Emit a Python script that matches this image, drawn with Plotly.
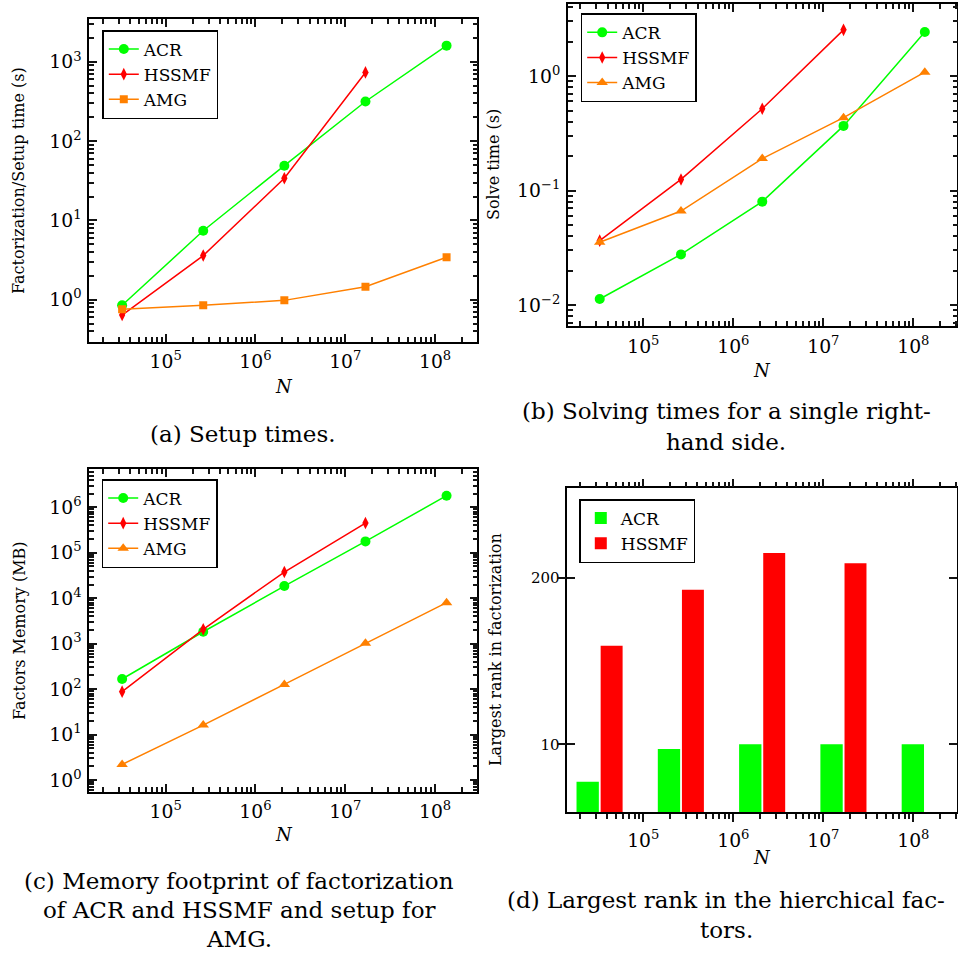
import numpy as np
import plotly.graph_objects as go

# ---------------- data ----------------
N = [32768, 262144, 2097152, 16777216, 134217728]

setup_acr = [0.85, 7.4, 49, 316, 1600]
setup_hssmf = [0.64, 3.6, 34, 735]
setup_amg = [0.76, 0.85, 0.98, 1.46, 3.43]

solve_acr = [0.0113, 0.0277, 0.080, 0.367, 2.42]
solve_hssmf = [0.0365, 0.125, 0.518, 2.53]
solve_amg = [0.0353, 0.0662, 0.190, 0.433, 1.08]

mem_acr = [167, 1830, 18500, 178000, 1.8e6]
mem_hssmf = [88, 2070, 37700, 451000]
mem_amg = [2.2, 16.2, 127, 1018, 7980]

rank_acr = [5.1, 9.2, 10, 10, 10]
rank_hssmf = [59, 161, 313, 260]

label_alias = {"1": "10<sup>0</sup>", "10": "10<sup>1</sup>",
               "0.1": "10<sup>−1</sup>", "0.01": "10<sup>−2</sup>"}
yd_tickvals = [10, 200]
yd_ticktext = ["10", "200"]

captions = {
    "a": ["(a) Setup times."],
    "b": ["(b) Solving times for a single right-", "hand side."],
    "c": ["(c) Memory footprint of factorization", "of ACR and HSSMF and setup for", "AMG."],
    "d": ["(d) Largest rank in the hierchical fac-", "tors."],
}

# ---------------- style ----------------
W = H = 958
FONT = "DejaVu Serif"
GREEN = "rgb(0,255,0)"
RED = "rgb(255,0,0)"
ORANGE = "rgb(255,128,0)"
TICKCOL = "rgb(20,20,20)"


def dom(x0, x1, y0, y1):
    return [x0 / W, x1 / W], [1 - y1 / H, 1 - y0 / H]


def log_axis(tick_dir="inside", mirror="allticks", ln=8, mln=5, w=2, col=TICKCOL):
    return dict(
        type="log", showline=True, linecolor="black", linewidth=1.5, mirror=mirror,
        ticks=tick_dir, ticklen=ln, tickwidth=w, tickcolor=col, layer="above traces",
        showgrid=False, zeroline=False,
        tickfont=dict(family=FONT, size=15, color="black"),
        ticklabelstandoff=3,
        tickmode="linear", tick0=0, dtick=1, exponentformat="power",
        labelalias=label_alias,
        minor=dict(ticks=tick_dir, ticklen=mln, tickwidth=w, tickcolor=col,
                   dtick="D1", showgrid=False),
    )


fig = go.Figure()


def line_trace(x, y, name, color, symbol, size, ax, leg):
    fig.add_trace(go.Scatter(x=x, y=y, name=name, mode="lines+markers",
                             line=dict(color=color, width=1.5),
                             marker=dict(symbol=symbol, size=size, color=color),
                             xaxis="x" + ax, yaxis="y" + ax, legend=leg))


# panel (a)
line_trace(N, setup_acr, "ACR", GREEN, "circle", 10, "", "legend")
line_trace(N[:4], setup_hssmf, "HSSMF", RED, "diamond-tall", 9, "", "legend")
line_trace(N, setup_amg, "AMG", ORANGE, "square", 8, "", "legend")
# panel (b)
line_trace(N, solve_acr, "ACR", GREEN, "circle", 10, "2", "legend2")
line_trace(N[:4], solve_hssmf, "HSSMF", RED, "diamond-tall", 9, "2", "legend2")
line_trace(N, solve_amg, "AMG", ORANGE, "triangle-up", 10, "2", "legend2")
# panel (c)
line_trace(N, mem_acr, "ACR", GREEN, "circle", 10, "3", "legend3")
line_trace(N[:4], mem_hssmf, "HSSMF", RED, "diamond-tall", 9, "3", "legend3")
line_trace(N, mem_amg, "AMG", ORANGE, "triangle-up", 10, "3", "legend3")

# panel (d): bars placed at log10(N) on a linear helper axis
logN = list(np.log10(N))
fig.add_trace(go.Bar(x=logN, y=rank_acr, name="ACR", width=0.248, offset=-0.257,
                     marker=dict(color=GREEN, line=dict(width=0)),
                     xaxis="x4", yaxis="y4", legend="legend4"))
fig.add_trace(go.Bar(x=logN[:4], y=rank_hssmf, name="HSSMF", width=0.244, offset=0.011,
                     marker=dict(color=RED, line=dict(width=0)),
                     xaxis="x4", yaxis="y4", legend="legend4"))
# invisible companion trace so the log-scaled N axis of panel (d) is drawn
fig.add_trace(go.Scatter(x=N, y=rank_acr, mode="markers", marker=dict(opacity=0),
                         showlegend=False, hoverinfo="skip", xaxis="x5", yaxis="y4"))

# ---------------- layout ----------------
xa, ya = dom(89.3, 477.3, 19, 341.7)
xb, yb = dom(568, 957.3, 4, 326)
xc, yc = dom(89.3, 477.3, 469, 791.7)
xd, yd = dom(567.3, 956.7, 488.3, 812.3)
xr_d = [4.156, 8.482]

layout = dict(
    width=W, height=H, margin=dict(l=0, r=0, t=0, b=0),
    paper_bgcolor="white", plot_bgcolor="rgba(0,0,0,0)",
    font=dict(family=FONT, color="black"),
    barmode="overlay", showlegend=True,
    xaxis=dict(log_axis(), domain=xa, anchor="y", range=[4.15, 8.47]),
    yaxis=dict(log_axis(), domain=ya, anchor="x", range=[-0.53, 3.54]),
    xaxis2=dict(log_axis(), domain=xb, anchor="y2", range=[4.163, 8.489]),
    yaxis2=dict(log_axis(), domain=yb, anchor="x2", range=[-2.183, 0.629]),
    xaxis3=dict(log_axis(), domain=xc, anchor="y3", range=[4.15, 8.47]),
    yaxis3=dict(log_axis(), domain=yc, anchor="x3", range=[-0.257, 6.843]),
    xaxis4=dict(type="linear", domain=xd, anchor="y4", range=xr_d,
                showline=True, linecolor="black", linewidth=1.5, mirror=True,
                ticks="", showticklabels=False, showgrid=False, zeroline=False),
    xaxis5=dict(log_axis("outside"), overlaying="x4", anchor="y4", side="bottom",
                range=xr_d),
    yaxis4=dict(type="log", domain=yd, anchor="x4", range=[0.469, 3.0],
                showline=True, linecolor="black", linewidth=1.5, mirror="allticks",
                ticks="inside", ticklen=8, tickwidth=2, tickcolor=TICKCOL,
                showgrid=False, zeroline=False, ticklabelstandoff=3,
                tickfont=dict(family=FONT, size=15, color="black"),
                tickmode="array", tickvals=yd_tickvals, ticktext=yd_ticktext),
)

leg = dict(xanchor="left", yanchor="top", bordercolor="black", borderwidth=1.5,
           bgcolor="white", font=dict(family=FONT, size=17, color="black"),
           tracegroupgap=0, itemwidth=30)
layout["legend"] = dict(leg, x=102.3 / W, y=1 - 30 / H)
layout["legend2"] = dict(leg, x=580.7 / W, y=1 - 13.3 / H)
layout["legend3"] = dict(leg, x=101.7 / W, y=1 - 479 / H)
layout["legend4"] = dict(leg, x=579.3 / W, y=1 - 499 / H)

fig.update_layout(**layout)

ann = []


def add_text(text, x, y, size, angle=0):
    ann.append(dict(text=text, x=x / W, y=1 - y / H, xref="paper", yref="paper",
                    showarrow=False, xanchor="center", yanchor="middle",
                    textangle=angle, font=dict(family=FONT, size=size, color="black")))


# axis titles
add_text("Factorization/Setup time (s)", 18, 181, 16, -90)
add_text("Solve time (s)", 494, 165, 16, -90)
add_text("Factors Memory (MB)", 19, 631, 16, -90)
add_text("Largest rank in factorization", 495, 650, 16, -90)
add_text("<i>N</i>", 284, 386, 18)
add_text("<i>N</i>", 762, 370, 18)
add_text("<i>N</i>", 284, 834, 18)
add_text("<i>N</i>", 762, 857, 18)

# captions
for i, line in enumerate(captions["a"]):
    add_text(line, 243, 434 + 30 * i, 23)
for i, line in enumerate(captions["b"]):
    add_text(line, 726, 411 + 31 * i, 23)
for i, line in enumerate(captions["c"]):
    add_text(line, 239, 881 + 29 * i, 23)
for i, line in enumerate(captions["d"]):
    add_text(line, 726, 900 + 30 * i, 23)

fig.update_layout(annotations=ann)
fig.write_html("out.html", config={"displayModeBar": False},
               post_script="document.body.style.margin='0px';")
